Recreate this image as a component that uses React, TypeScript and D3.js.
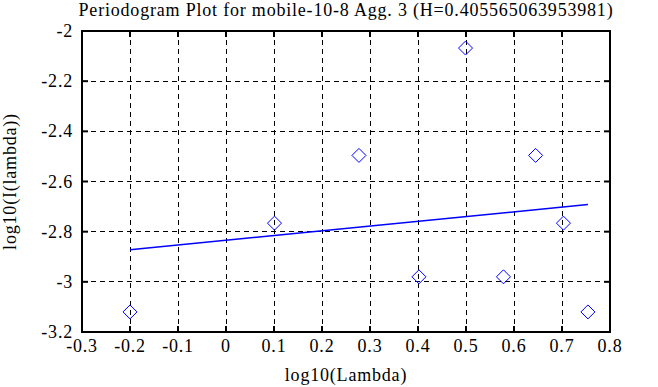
import { useEffect, useRef } from 'react';
import * as d3 from 'd3';

const title = 'Periodogram Plot for mobile-10-8 Agg. 3 (H=0.405565063953981)';
const xLabel = 'log10(Lambda)';
const yLabel = 'log10(I(lambda))';

const xTicks = [-0.3, -0.2, -0.1, 0, 0.1, 0.2, 0.3, 0.4, 0.5, 0.6, 0.7, 0.8];
const yTicks = [-2, -2.2, -2.4, -2.6, -2.8, -3, -3.2];

const logLambda = [-0.2, 0.101, 0.277, 0.402, 0.499, 0.578, 0.645, 0.703, 0.754];
const logI = [-3.12, -2.766, -2.496, -2.98, -2.068, -2.98, -2.496, -2.766, -3.12];

// least-squares fit line endpoints
const fitX = [-0.2, 0.754];
const fitY = [-2.872, -2.692];

export default function App() {
  const svgRef = useRef<SVGSVGElement>(null);

  useEffect(() => {
    if (!svgRef.current) return;
    const svg = d3.select(svgRef.current);
    svg.selectAll('*').remove();

    const width = 658;
    const height = 387;
    const margin = { top: 31, right: 48, bottom: 55, left: 82 };
    const innerWidth = width - margin.left - margin.right;
    const innerHeight = height - margin.top - margin.bottom;
    const font = '"Liberation Serif", "DejaVu Serif", serif';
    const fontSize = 18;
    const spacing = 0.8;

    svg.attr('width', width).attr('height', height);

    const x = d3.scaleLinear().domain([-0.3, 0.8]).range([0, innerWidth]);
    const y = d3.scaleLinear().domain([-3.2, -2]).range([innerHeight, 0]);

    const g = svg
      .append('g')
      .attr('transform', `translate(${margin.left},${margin.top})`);

    // Grid
    g.append('g')
      .selectAll('line')
      .data(xTicks.slice(1, -1))
      .join('line')
      .attr('x1', (d) => x(d))
      .attr('x2', (d) => x(d))
      .attr('y1', 0)
      .attr('y2', innerHeight)
      .attr('stroke', '#000')
      .attr('stroke-width', 1)
      .attr('stroke-dasharray', '5,4')
      .attr('shape-rendering', 'crispEdges');

    g.append('g')
      .selectAll('line')
      .data(yTicks.slice(1, -1))
      .join('line')
      .attr('x1', 0)
      .attr('x2', innerWidth)
      .attr('y1', (d) => y(d))
      .attr('y2', (d) => y(d))
      .attr('stroke', '#000')
      .attr('stroke-width', 1)
      .attr('stroke-dasharray', '5,4')
      .attr('shape-rendering', 'crispEdges');

    // Inner ticks
    const tickLen = 6;
    const ticks = g.append('g').attr('stroke', '#000').attr('stroke-width', 2);
    xTicks.forEach((t) => {
      ticks.append('line').attr('x1', x(t)).attr('x2', x(t)).attr('y1', innerHeight).attr('y2', innerHeight - tickLen);
      ticks.append('line').attr('x1', x(t)).attr('x2', x(t)).attr('y1', 0).attr('y2', tickLen);
    });
    yTicks.forEach((t) => {
      ticks.append('line').attr('x1', 0).attr('x2', tickLen).attr('y1', y(t)).attr('y2', y(t));
      ticks.append('line').attr('x1', innerWidth).attr('x2', innerWidth - tickLen).attr('y1', y(t)).attr('y2', y(t));
    });

    // Frame
    g.append('rect')
      .attr('width', innerWidth)
      .attr('height', innerHeight)
      .attr('fill', 'none')
      .attr('stroke', '#000')
      .attr('stroke-width', 2);

    // Fit line
    const line = d3
      .line<number>()
      .x((d) => x(d))
      .y((_, i) => y(fitY[i]));
    g.append('path')
      .datum(fitX)
      .attr('fill', 'none')
      .attr('stroke', '#0000ff')
      .attr('stroke-width', 1.5)
      .attr('d', line);

    // Diamonds
    const s = 7;
    g.selectAll('.pt')
      .data(logLambda)
      .join('path')
      .attr('class', 'pt')
      .attr('d', (d, i) => {
        const cx = x(d);
        const cy = y(logI[i]);
        return `M${cx},${cy - s}L${cx + s},${cy}L${cx},${cy + s}L${cx - s},${cy}Z`;
      })
      .attr('fill', 'none')
      .attr('stroke', '#0000ff')
      .attr('stroke-width', 1);

    const fmt = (d: number) => String(+d.toFixed(1));

    // Tick labels
    g.append('g')
      .selectAll('text')
      .data(xTicks)
      .join('text')
      .attr('x', (d) => x(d))
      .attr('y', innerHeight + 20)
      .attr('text-anchor', 'middle')
      .attr('font-family', font)
      .attr('font-size', fontSize)
      .attr('letter-spacing', spacing)
      .text(fmt);

    g.append('g')
      .selectAll('text')
      .data(yTicks)
      .join('text')
      .attr('x', -9)
      .attr('y', (d) => y(d) + 6)
      .attr('text-anchor', 'end')
      .attr('font-family', font)
      .attr('font-size', fontSize)
      .attr('letter-spacing', spacing)
      .text(fmt);

    // Title and axis labels
    svg
      .append('text')
      .attr('x', margin.left + innerWidth / 2)
      .attr('y', 16)
      .attr('text-anchor', 'middle')
      .attr('font-family', font)
      .attr('font-size', fontSize)
      .attr('letter-spacing', spacing)
      .text(title);

    svg
      .append('text')
      .attr('x', margin.left + innerWidth / 2)
      .attr('y', 381)
      .attr('text-anchor', 'middle')
      .attr('font-family', font)
      .attr('font-size', fontSize)
      .attr('letter-spacing', spacing)
      .text(xLabel);

    svg
      .append('text')
      .attr('transform', `translate(16,${margin.top + innerHeight / 2}) rotate(-90)`)
      .attr('text-anchor', 'middle')
      .attr('font-family', font)
      .attr('font-size', fontSize)
      .attr('letter-spacing', spacing)
      .text(yLabel);
  }, []);

  return (
    <svg
      ref={svgRef}
      style={{ position: 'absolute', left: 0, top: 0, background: '#fff' }}
    />
  );
}
